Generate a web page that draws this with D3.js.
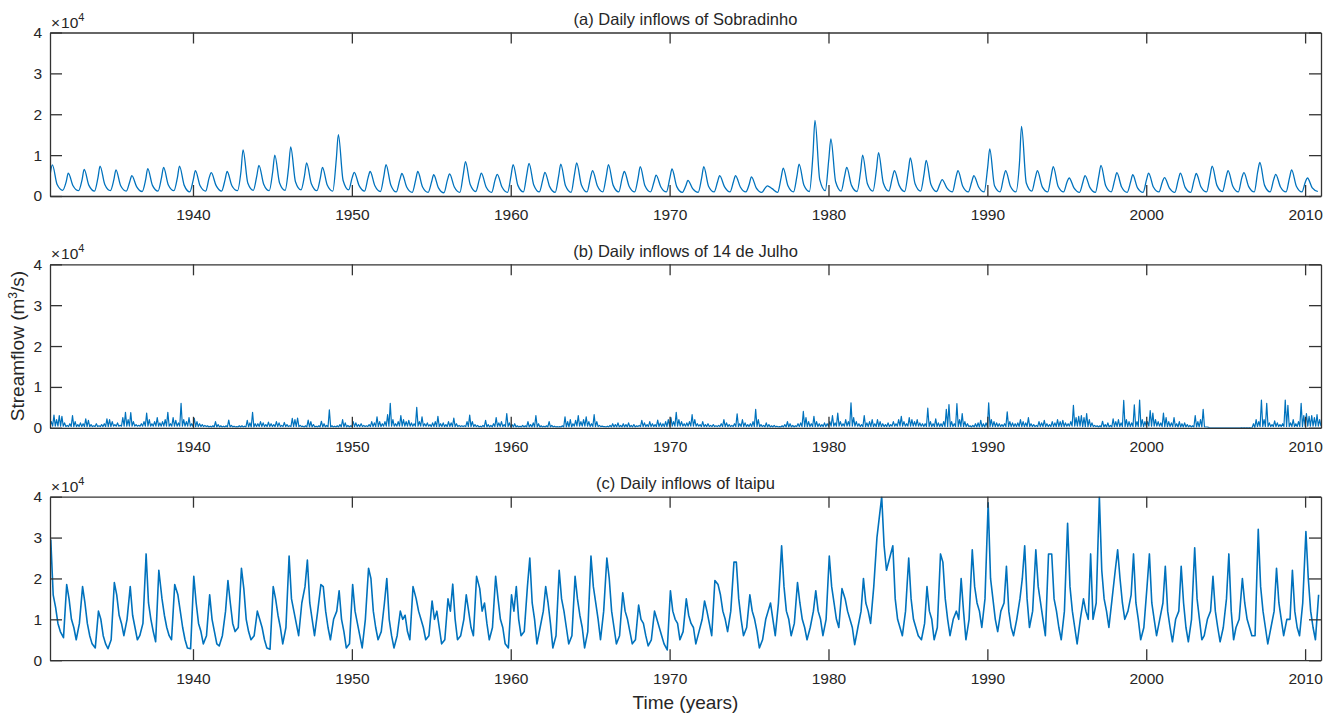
<!DOCTYPE html>
<html>
<head>
<meta charset="utf-8">
<script src="https://cdn.jsdelivr.net/npm/d3@7"></script>
<style>
  body { margin: 0; background: #fff; }
  svg { display: block; font-family: "Liberation Sans", Arial, sans-serif; }
</style>
</head>
<body>
<svg id="chart"></svg>
<script>
// Data (values in thousands of m3/s, one row per year starting 1931)
const firstYear = 1931;
const panelTitles = ['(a) Daily inflows of Sobradinho', '(b) Daily inflows of 14 de Julho', '(c) Daily inflows of Itaipu'];
const xTicks = [1940, 1950, 1960, 1970, 1980, 1990, 2000, 2010];
const yTicks = [0, 10000, 20000, 30000, 40000];
const yTickLabels = ['0', '1', '2', '3', '4'];

// Sobradinho: [early Jan, wet-season peak, mid-year recession, dry-season low]
const sobPhases = [0.02, 0.15, 0.45, 0.8];
const sobradinho = [
  [5.5, 7.6, 2.8, 1.4], [3.5, 5.6, 2.5, 1.3], [4.0, 6.5, 2.6, 1.2], [4.5, 7.3, 2.8, 1.3], [4.0, 6.4, 2.5, 1.2],
  [3.5, 5.0, 2.3, 1.1], [4.0, 6.7, 2.6, 1.2], [4.5, 7.0, 2.7, 1.3], [4.5, 7.3, 2.6, 1.0], [4.0, 6.2, 2.5, 1.2],
  [4.5, 5.7, 2.6, 1.2], [4.0, 6.0, 2.5, 1.3], [6.0, 11.3, 3.2, 1.4], [5.0, 7.5, 2.9, 1.3], [6.0, 10.0, 3.2, 1.4],
  [7.0, 12.0, 3.5, 1.5], [5.0, 8.1, 3.0, 1.3], [4.5, 7.0, 2.7, 1.2], [9.0, 15.0, 3.8, 1.5], [4.5, 5.8, 2.6, 1.2],
  [4.5, 6.0, 2.5, 1.1], [5.0, 7.7, 2.7, 1.0], [4.0, 5.5, 2.2, 0.9], [4.0, 6.0, 2.2, 0.9], [3.5, 5.2, 2.0, 0.8],
  [4.0, 5.4, 2.2, 0.9], [5.5, 8.4, 2.8, 1.1], [4.0, 5.6, 2.2, 0.9], [4.0, 5.3, 2.2, 0.9], [5.0, 7.7, 2.6, 1.0],
  [5.5, 8.0, 2.7, 1.0], [4.0, 5.8, 2.3, 0.9], [5.0, 7.8, 2.5, 0.9], [5.5, 8.1, 2.7, 1.0], [4.5, 6.2, 2.5, 1.0],
  [5.0, 7.7, 2.6, 1.0], [4.5, 6.0, 2.4, 1.0], [4.5, 7.2, 2.5, 1.0], [3.5, 5.1, 2.2, 1.0], [4.5, 6.6, 2.3, 0.9],
  [2.5, 3.8, 1.8, 0.9], [4.5, 7.2, 2.4, 1.0], [3.5, 5.0, 2.3, 1.0], [3.5, 5.0, 2.2, 1.0], [3.0, 4.7, 2.0, 0.9],
  [2.0, 2.5, 1.8, 0.9], [4.5, 6.8, 2.5, 1.0], [5.0, 7.8, 2.7, 1.1], [10.0, 18.5, 4.0, 1.3], [9.0, 14.0, 3.5, 1.2],
  [5.0, 7.0, 2.6, 1.1], [6.0, 10.0, 3.0, 1.2], [6.5, 10.6, 3.2, 1.2], [4.5, 6.2, 2.6, 1.1], [6.0, 9.3, 3.0, 1.2],
  [5.5, 8.7, 2.8, 1.1], [3.0, 4.0, 2.0, 1.0], [4.5, 6.2, 2.4, 1.0], [3.5, 5.0, 2.2, 1.0], [7.0, 11.5, 2.5, 1.0],
  [4.5, 6.2, 2.4, 1.0], [8.0, 17.0, 3.2, 1.2], [4.5, 6.2, 2.3, 1.0], [5.0, 7.2, 2.4, 1.0], [3.5, 4.4, 2.0, 0.9],
  [3.5, 5.0, 2.1, 0.9], [5.0, 7.5, 2.5, 1.0], [4.0, 5.7, 2.2, 0.9], [3.5, 5.2, 2.0, 0.9], [4.0, 5.6, 2.2, 1.0],
  [3.5, 4.5, 2.0, 0.9], [4.0, 5.6, 2.1, 0.9], [4.0, 5.5, 2.2, 1.0], [5.0, 7.3, 2.6, 1.1], [4.5, 6.2, 2.4, 1.0],
  [4.5, 5.7, 2.3, 1.0], [6.0, 8.2, 2.6, 1.0], [4.0, 5.3, 2.2, 1.0], [4.5, 6.4, 2.4, 1.0], [3.5, 4.4, 2.0, 1.1]
];

// 14 de Julho: flood spikes within each year, and the base flow between them
const julhoSpikes = [
  [1.5, 3.1, 2.0, 3.0, 2.8, 1.2], [0.6, 1.0, 3.0, 1.5, 0.8, 1.2], [1.0, 2.2, 1.8, 0.8, 0.5, 1.0], [0.5, 0.8, 1.0, 2.2, 2.0, 1.5],
  [0.8, 1.2, 0.6, 2.5, 3.8, 2.0], [3.7, 1.5, 0.8, 0.6, 1.0, 1.5], [3.6, 2.0, 1.0, 1.5, 2.5, 1.2], [1.5, 2.0, 3.8, 1.0, 2.5, 1.8],
  [1.2, 6.0, 2.0, 1.5, 2.5, 1.0], [2.3, 1.5, 1.0, 0.8, 0.6, 0.5], [0.4, 0.5, 1.5, 0.8, 0.5, 0.4], [0.5, 1.9, 0.6, 0.4, 0.3, 0.5],
  [0.5, 0.4, 1.8, 1.2, 3.8, 1.0], [1.0, 1.5, 1.2, 0.8, 1.4, 1.0], [0.8, 1.5, 1.2, 0.6, 1.3, 0.8], [0.5, 2.3, 2.0, 2.4, 0.6, 0.4],
  [0.5, 1.9, 1.5, 0.8, 0.4, 0.5], [1.6, 1.0, 0.6, 4.4, 0.5, 0.4], [0.5, 0.8, 2.0, 1.2, 0.6, 0.5], [1.5, 1.2, 0.8, 1.0, 0.6, 0.5],
  [0.8, 1.5, 1.2, 2.7, 1.5, 1.0], [1.5, 3.2, 6.0, 2.0, 1.0, 1.5], [3.0, 2.0, 1.5, 1.8, 1.2, 1.0], [5.0, 1.5, 2.7, 1.0, 1.2, 0.8],
  [1.2, 1.5, 2.8, 1.0, 1.2, 0.8], [1.5, 1.2, 2.4, 1.0, 0.6, 0.5], [0.5, 1.5, 3.1, 1.5, 0.8, 0.6], [0.4, 0.6, 1.8, 0.8, 0.6, 1.0],
  [2.5, 1.2, 1.5, 0.8, 3.5, 1.2], [0.8, 1.0, 0.5, 0.4, 0.6, 0.5], [1.5, 0.8, 1.2, 3.0, 1.0, 0.5], [0.4, 0.5, 1.5, 0.6, 0.4, 0.3],
  [0.3, 0.5, 2.7, 1.5, 2.0, 1.0], [1.8, 3.0, 1.5, 2.0, 2.7, 1.5], [1.0, 3.2, 1.5, 0.6, 0.4, 0.3], [0.4, 0.6, 1.0, 0.8, 1.2, 0.6],
  [1.0, 0.8, 1.2, 0.6, 0.8, 0.5], [0.6, 1.8, 1.2, 0.8, 1.5, 1.0], [0.8, 1.9, 1.2, 1.0, 1.5, 2.0], [2.5, 1.5, 3.8, 2.0, 1.5, 1.0],
  [1.2, 1.5, 3.2, 2.0, 1.0, 0.8], [1.5, 0.8, 1.0, 0.6, 0.8, 0.5], [0.6, 1.0, 2.0, 1.2, 0.8, 0.6], [1.0, 3.4, 1.0, 2.0, 1.2, 0.8],
  [1.0, 1.5, 4.5, 2.0, 0.8, 0.6], [1.2, 0.8, 0.5, 0.6, 0.4, 0.3], [0.5, 0.8, 1.5, 1.0, 0.6, 0.5], [1.0, 1.2, 4.0, 2.5, 1.5, 1.0],
  [2.8, 1.5, 1.0, 0.8, 1.2, 1.0], [1.5, 3.0, 1.2, 3.6, 1.5, 1.0], [2.0, 1.5, 6.1, 2.5, 1.5, 1.0], [0.8, 3.0, 1.2, 1.5, 2.0, 1.0],
  [2.0, 1.5, 1.0, 0.8, 1.2, 0.8], [1.5, 1.0, 2.0, 2.8, 1.5, 1.0], [2.5, 2.0, 1.5, 2.0, 1.2, 1.0], [1.0, 4.8, 1.5, 1.0, 2.2, 1.2],
  [1.0, 1.5, 4.5, 5.7, 1.5, 1.0], [5.9, 2.0, 3.5, 1.5, 1.0, 0.5], [0.6, 1.0, 1.2, 1.8, 1.0, 1.2], [6.1, 2.0, 1.5, 1.2, 1.0, 0.8],
  [1.0, 3.9, 1.5, 1.2, 1.0, 1.2], [2.0, 1.5, 1.2, 2.5, 1.0, 0.8], [0.6, 1.5, 1.2, 1.8, 1.0, 0.8], [1.5, 1.2, 2.0, 1.5, 1.8, 1.2],
  [1.0, 1.5, 5.5, 2.5, 2.8, 3.0], [2.5, 3.5, 2.0, 1.2, 0.6, 0.5], [0.5, 1.6, 0.8, 1.2, 0.6, 2.2], [1.5, 2.0, 1.2, 6.7, 2.0, 1.5],
  [1.2, 5.6, 1.5, 6.8, 2.0, 1.5], [1.5, 4.2, 3.6, 2.0, 1.5, 1.2], [3.6, 2.5, 1.5, 1.2, 2.5, 1.0], [1.5, 1.0, 1.2, 0.8, 0.6, 0.5],
  [3.0, 1.5, 2.0, 4.5, 0.2, 0.1], [0, 0, 0, 0, 0, 0], [0, 0, 0, 0, 0, 0], [0, 0, 0, 0, 1.0, 2.0],
  [1.5, 6.8, 2.0, 6.0, 1.2, 0.8], [1.7, 1.2, 0.8, 1.0, 6.8, 5.5], [1.2, 2.0, 1.0, 1.5, 6.0, 3.0], [3.5, 2.8, 3.0, 2.5, 3.2, 2.0]
];
const julhoBase = [
  0.4, 0.3, 0.3, 0.3, 0.4, 0.4, 0.4, 0.4, 0.4, 0.3,
  0.2, 0.2, 0.2, 0.3, 0.3, 0.3, 0.2, 0.2, 0.2, 0.3,
  0.3, 0.4, 0.4, 0.4, 0.3, 0.3, 0.3, 0.2, 0.3, 0.2,
  0.2, 0.2, 0.2, 0.4, 0.3, 0.2, 0.2, 0.3, 0.3, 0.4,
  0.4, 0.3, 0.3, 0.3, 0.3, 0.2, 0.2, 0.3, 0.3, 0.4,
  0.4, 0.3, 0.3, 0.4, 0.4, 0.3, 0.3, 0.3, 0.2, 0.3,
  0.3, 0.3, 0.3, 0.3, 0.4, 0.3, 0.2, 0.3, 0.3, 0.4,
  0.3, 0.2, 0.2, 0.0, 0.0, 0.05, 0.3, 0.3, 0.3, 0.4
];

// Itaipu: six readings per year
const itaPhases = [0.05, 0.2, 0.35, 0.5, 0.65, 0.85];
const itaipu = [
  [29.5, 16, 13, 9, 7, 5.5], [18.5, 15, 10, 8, 5, 9], [18, 14, 9, 6, 4, 3], [12, 10, 6, 4, 2.8, 5], [19, 16, 11, 9, 6, 10],
  [18, 11, 8, 5, 6, 9], [26, 14, 10, 7, 4.5, 22], [15, 11, 8, 6, 5, 18.5], [16, 12, 8, 5, 3, 2.8], [20.5, 14, 9, 7, 4, 6],
  [16, 10, 7, 4, 3.5, 6], [12, 19.5, 14, 9, 7, 8], [22.5, 17.5, 10, 7, 5, 6], [12, 10, 8, 5, 3, 2.7], [18, 15, 11, 8, 4, 8],
  [25.5, 15, 12, 9, 6, 14], [18, 24.5, 14, 10, 6, 12], [18.5, 18, 12, 8, 5, 10], [12, 17, 10, 7, 3, 4], [18.5, 12, 9, 6, 3, 10],
  [22.5, 20, 12, 8, 5, 7], [14, 20, 10, 6, 3, 6], [12, 10, 11, 7, 5, 18], [15, 12, 10, 8, 5, 6], [14.5, 10, 12, 8, 4, 5],
  [15, 12, 18.6, 10, 5, 6], [10, 16, 12, 8, 6, 20.5], [17.5, 12, 14, 9, 5, 8], [20.5, 15, 10, 8, 4, 3], [16, 12, 18, 10, 6, 7],
  [18, 25, 14, 10, 4, 8], [12, 18, 14, 9, 3, 6], [22, 15, 12, 8, 4, 6], [20.5, 15, 11, 8, 3, 7], [25.5, 18, 14, 10, 5, 12],
  [25, 20, 12, 8, 4, 6], [16.5, 12, 10, 7, 4, 5], [13.5, 10, 9, 6, 3.5, 5], [12, 10, 8, 6, 4, 2.5], [17, 12, 10, 9, 5, 7],
  [15, 11, 9, 8, 4, 7], [10, 14.5, 12, 9, 6, 19.5], [18.5, 16, 12, 10, 7, 12], [24, 24, 15, 10, 6, 8], [16, 12, 10, 7, 3, 5],
  [10, 12, 14, 10, 6, 14], [28, 18, 12, 10, 6, 9], [19, 14, 10, 8, 5, 8], [12, 17, 12, 10, 6, 10], [25.5, 18, 14, 10, 8, 17.5],
  [15, 12, 10, 8, 3.8, 8], [12, 20, 14, 12, 9, 18], [30, 35, 40, 28, 22, 25], [28, 15, 10, 8, 6, 12], [25, 15, 10, 8, 6, 5],
  [9, 18, 12, 10, 5, 8], [26, 24, 15, 10, 6, 10], [12, 10, 20, 12, 5, 10], [27, 18, 14, 12, 8, 15], [38.5, 20, 15, 10, 7, 12],
  [14, 23, 12, 8, 6, 10], [15, 20, 28, 15, 8, 12], [27, 18, 14, 10, 6, 26], [26, 15, 12, 8, 5, 12], [33.5, 18, 12, 8, 4, 10],
  [15, 12, 10, 26, 10, 14], [40, 22, 15, 12, 8, 15], [22, 27, 20, 14, 10, 12], [16, 26, 14, 10, 5, 8], [18, 26, 14, 10, 6, 10],
  [14, 23, 12, 8, 4.5, 10], [12, 23, 14, 8, 4.5, 10], [27.5, 15, 10, 5, 6, 10], [12, 20.5, 12, 8, 4.5, 8], [15, 26, 12, 5, 8, 10],
  [20, 14, 10, 8, 6, 6], [32, 18, 12, 8, 4, 8], [12, 22.5, 14, 10, 6, 10], [10, 22, 12, 8, 6, 14], [31.5, 20, 12, 8, 5, 16]
];

// Build point lists
const sobPoints = sobradinho.flatMap((vals, i) =>
  vals.map((v, j) => ({ t: firstYear + i + sobPhases[j], v: v * 1000 })));

const julhoPoints = [];
julhoSpikes.forEach((spikes, i) => {
  const n = spikes.length;
  spikes.forEach((v, k) => {
    julhoPoints.push({ t: firstYear + i + k / n, v: julhoBase[i] * 1000 });
    julhoPoints.push({ t: firstYear + i + (k + 0.5) / n, v: v * 1000 });
  });
});
julhoPoints.push({ t: firstYear + julhoSpikes.length, v: julhoBase[julhoBase.length - 1] * 1000 });

const itaPoints = itaipu.flatMap((vals, i) =>
  vals.map((v, j) => ({ t: firstYear + i + itaPhases[j], v: v * 1000 })));

const seriesList = [
  { points: sobPoints, curve: d3.curveMonotoneX, width: 1.3 },
  { points: julhoPoints, curve: d3.curveLinear, width: 1.2 },
  { points: itaPoints, curve: d3.curveLinear, width: 1.6 }
];

// Layout
const svgWidth = 1338;
const svgHeight = 716;
const left = 50;
const right = 1321;
const panelTops = [32.5, 264.3, 496.7];
const panelHeight = 163.5;
const lineColor = '#0072BD';
const axisColor = '#333333';
const textColor = '#262626';

const svg = d3.select('#chart')
  .attr('width', svgWidth)
  .attr('height', svgHeight);

const xScale = d3.scaleLinear()
  .domain([1931, 2011])
  .range([left, right]);

panelTops.forEach((top, p) => {
  const yScale = d3.scaleLinear()
    .domain([0, 40000])
    .range([top + panelHeight, top]);

  const g = svg.append('g');

  // clip so lines stay inside the box
  g.append('clipPath')
    .attr('id', 'clip' + p)
    .append('rect')
    .attr('x', left)
    .attr('y', top)
    .attr('width', right - left)
    .attr('height', panelHeight);

  const s = seriesList[p];
  const line = d3.line()
    .x(d => xScale(d.t))
    .y(d => yScale(d.v))
    .curve(s.curve);

  g.append('path')
    .datum(s.points)
    .attr('clip-path', 'url(#clip' + p + ')')
    .attr('fill', 'none')
    .attr('stroke', lineColor)
    .attr('stroke-width', s.width)
    .attr('stroke-linejoin', 'round')
    .attr('d', line);

  // Axes: inward ticks on all four sides
  const xBottom = g.append('g')
    .attr('transform', 'translate(0,' + (top + panelHeight) + ')')
    .call(d3.axisBottom(xScale).tickValues(xTicks).tickFormat(d3.format('d'))
      .tickSizeInner(-11).tickSizeOuter(0).tickPadding(13));

  const xTop = g.append('g')
    .attr('transform', 'translate(0,' + top + ')')
    .call(d3.axisTop(xScale).tickValues(xTicks).tickFormat('')
      .tickSizeInner(-11).tickSizeOuter(0));

  const yLeft = g.append('g')
    .attr('transform', 'translate(' + left + ',0)')
    .call(d3.axisLeft(yScale).tickValues(yTicks).tickFormat((d, i) => yTickLabels[i])
      .tickSizeInner(-12).tickSizeOuter(0).tickPadding(8));

  const yRight = g.append('g')
    .attr('transform', 'translate(' + right + ',0)')
    .call(d3.axisRight(yScale).tickValues(yTicks).tickFormat('')
      .tickSizeInner(-12).tickSizeOuter(0));

  [xBottom, xTop, yLeft, yRight].forEach(a => {
    a.selectAll('path').attr('stroke', axisColor).attr('stroke-width', 1.3);
    a.selectAll('line').attr('stroke', axisColor).attr('stroke-width', 1.3);
    a.selectAll('text')
      .attr('fill', textColor)
      .attr('font-size', '15.5px')
      .attr('font-family', '"Liberation Sans", Arial, sans-serif');
  });

  // x10^4 exponent label
  const expo = g.append('text')
    .attr('x', 51)
    .attr('y', top - 5)
    .attr('fill', textColor)
    .attr('font-size', '15.5px');
  expo.append('tspan').text('\u00d7');
  expo.append('tspan').attr('dx', 1).text('10');
  expo.append('tspan')
    .attr('font-size', '11px')
    .attr('dy', -7)
    .text('4');

  // panel title
  g.append('text')
    .attr('x', (left + right) / 2)
    .attr('y', top - 7.5)
    .attr('text-anchor', 'middle')
    .attr('fill', textColor)
    .attr('font-size', '16.5px')
    .text(panelTitles[p]);
});

// Axis labels
svg.append('text')
  .attr('x', (left + right) / 2)
  .attr('y', 709)
  .attr('text-anchor', 'middle')
  .attr('fill', textColor)
  .attr('font-size', '19px')
  .text('Time (years)');

const yLabel = svg.append('text')
  .attr('transform', 'translate(24,' + (panelTops[1] + panelHeight / 2) + ') rotate(-90)')
  .attr('text-anchor', 'middle')
  .attr('fill', textColor)
  .attr('font-size', '19px');
yLabel.append('tspan').text('Streamflow (m');
yLabel.append('tspan').attr('font-size', '12px').attr('dy', -7).text('3');
yLabel.append('tspan').attr('dy', 7).text('/s)');
</script>
</body>
</html>
